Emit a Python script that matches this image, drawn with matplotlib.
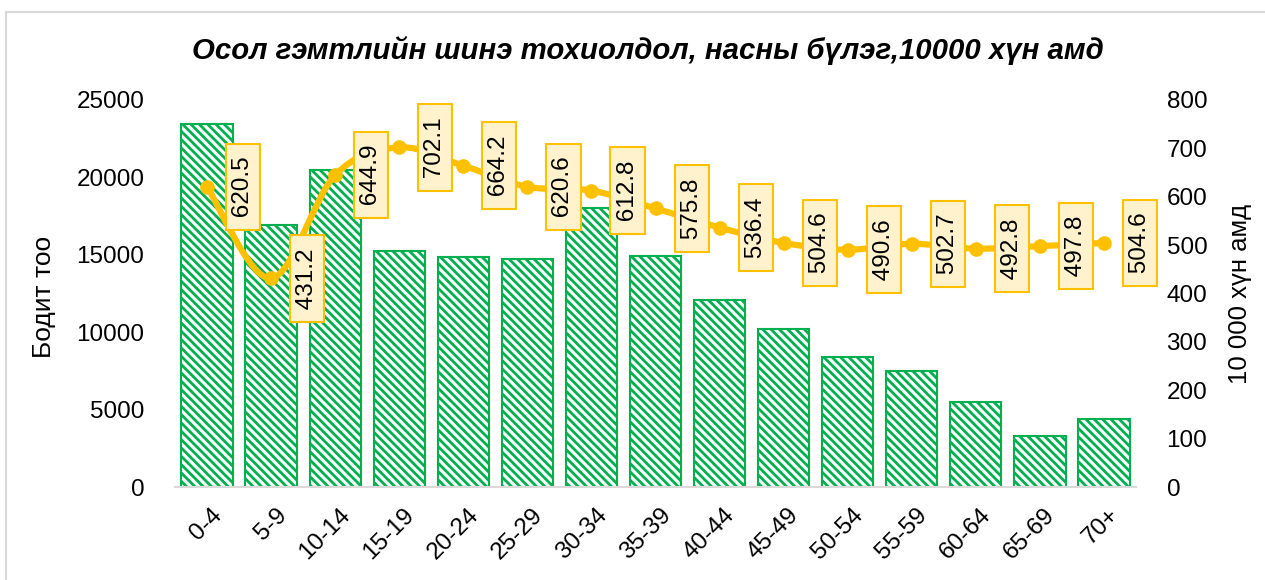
import numpy as np
import matplotlib.pyplot as plt
from matplotlib.path import Path
from matplotlib.patches import PathPatch, Rectangle
from matplotlib.transforms import ScaledTranslation

plt.rcParams['font.family'] = ['Liberation Sans', 'DejaVu Sans']
plt.rcParams['hatch.linewidth'] = 2.0

# data
groups = ["0-4", "5-9", "10-14", "15-19", "20-24", "25-29", "30-34", "35-39",
          "40-44", "45-49", "50-54", "55-59", "60-64", "65-69", "70+"]
counts = [23450, 16900, 20500, 15250, 14850, 14730, 18000, 14900,
          12050, 10200, 8400, 7480, 5480, 3300, 4400]
rate = [620.5, 431.2, 644.9, 702.1, 664.2, 620.6, 612.8, 575.8,
        536.4, 504.6, 490.6, 502.7, 492.8, 497.8, 504.6]

green = "#00B050"
gold = "#FFC000"

fig = plt.figure(figsize=(12.65, 5.8), dpi=100)
fig.patches.append(Rectangle((6 / 1265, -0.1), 1.2, 1 - 12 / 580 + 0.1, transform=fig.transFigure,
                             fill=False, edgecolor="#D9D9D9", linewidth=1.5))
ax1 = fig.add_axes([175 / 1265, 1 - 487 / 580, 961 / 1265, 387 / 580])
x = np.arange(len(groups))
ax1.bar(x, counts, width=0.8, color="white", edgecolor=green, hatch="\\\\\\\\", linewidth=1.5)
ax1.set_xlim(-0.5, len(groups) - 0.5)
ax1.set_ylim(0, 25000)
ax1.set_yticks(range(0, 25001, 5000))
ax1.set_xticks(x)
ax1.set_xticklabels(groups, rotation=45, ha="right", va="center", rotation_mode="anchor", fontsize=17.5)
ax1.tick_params(axis="x", length=0, pad=18)
ax1.tick_params(axis="y", length=0, pad=22, labelsize=17.5)
shift = ScaledTranslation(12 / 100, 0, fig.dpi_scale_trans)
for lab in ax1.get_xticklabels():
    lab.set_transform(lab.get_transform() + shift)
for s in ["top", "left", "right"]:
    ax1.spines[s].set_visible(False)
ax1.spines["bottom"].set_color("#D9D9D9")
ax1.spines["bottom"].set_linewidth(1.5)
ax1.set_ylabel("Бодит тоо", fontsize=19)
ax1.yaxis.set_label_coords(-0.124, 0.49)

ax2 = ax1.twinx()
ax2.set_ylim(0, 800)
ax2.set_yticks(range(0, 801, 100))
ax2.tick_params(axis="y", length=0, pad=22, labelsize=17.5)
for s in ["top", "left", "right", "bottom"]:
    ax2.spines[s].set_visible(False)
ax2.set_ylabel("10 000 хүн амд", fontsize=18.5, rotation=90)
ax2.yaxis.set_label_coords(1.096, 0.50)

# smooth line (Excel style bezier)
pts = np.column_stack([x, rate])
verts = [pts[0]]
codes = [Path.MOVETO]
for i in range(len(pts) - 1):
    p0 = pts[i - 1] if i > 0 else pts[i]
    p1 = pts[i]
    p2 = pts[i + 1]
    p3 = pts[i + 2] if i + 2 < len(pts) else pts[i + 1]
    c1 = p1 + (p2 - p0) / 6
    c2 = p2 - (p3 - p1) / 6
    verts += [c1, c2, p2]
    codes += [Path.CURVE4] * 3
ax2.add_patch(PathPatch(Path(verts, codes), fill=False, edgecolor=gold, linewidth=4.5, zorder=3))
ax2.plot(x, rate, "o", color=gold, markersize=9.5, zorder=4)

for xi, v in zip(x, rate):
    ax2.annotate(" %.1f " % v, (xi, v), xytext=(26, 0), textcoords="offset points",
                 rotation=90, ha="center", va="center", fontsize=17.5, zorder=5,
                 bbox=dict(boxstyle="square,pad=0.25", facecolor="#FFF2CC", edgecolor=gold, linewidth=1.5))

fig.text(0.512, 1 - 51 / 580, "Осол гэмтлийн шинэ тохиолдол, насны бүлэг,10000 хүн амд",
         ha="center", va="center", fontsize=21.2, fontweight="bold", fontstyle="italic")

fig.savefig("out.png", dpi=100)
